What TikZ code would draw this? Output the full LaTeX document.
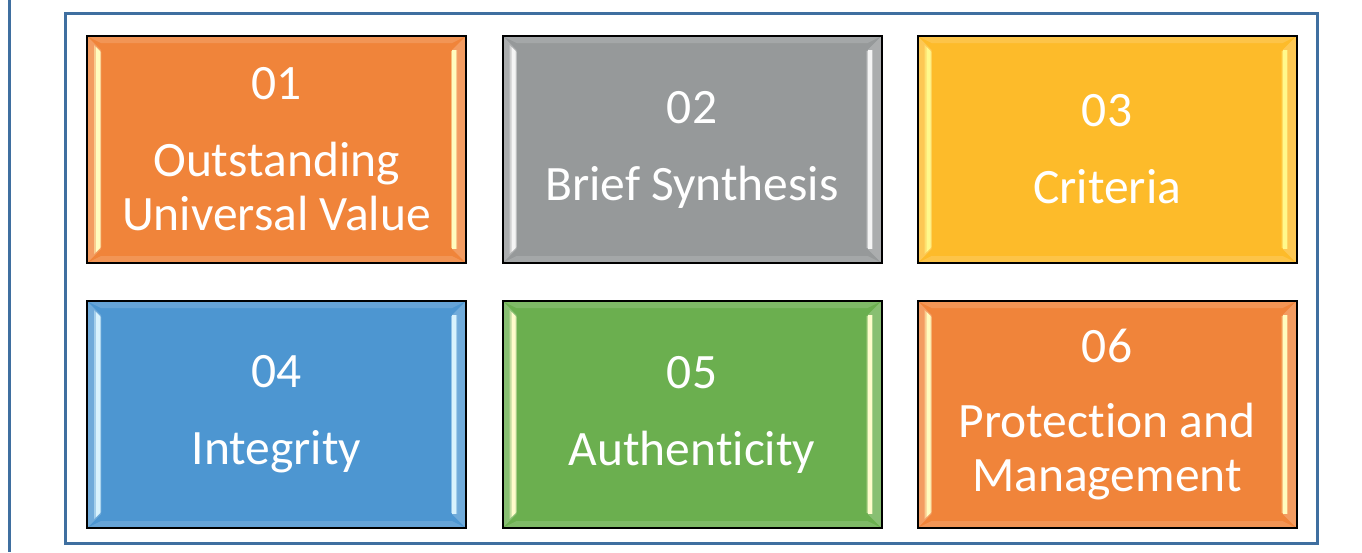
\documentclass[tikz,border=0pt]{standalone}
\usepackage{fontspec}
\newfontfamily\tilefont[Ligatures=NoCommon]{Carlito}
\definecolor{frameblue}{HTML}{3F6FA0}
\definecolor{torange}{HTML}{F0843A}
\definecolor{tgray}{HTML}{96999A}
\definecolor{tyellow}{HTML}{FDBB2A}
\definecolor{tblue}{HTML}{4D96D1}
\definecolor{tgreen}{HTML}{6BAF4F}
\tikzset{
  frame/.style={draw=frameblue,line width=3pt},
  tile/.style 2 args={draw=black,line width=2pt,fill=#1,minimum width=379pt,minimum height=227pt,
    inner sep=0pt,align=center,text=white,font=\tilefont\fontsize{49.5}{54}\selectfont,
    path picture={
      \coordinate (nw) at (path picture bounding box.north west);
      \coordinate (se) at (path picture bounding box.south east);
      \fill[white,opacity=.14] (nw) -- (nw-|se) -- ([shift={(-14pt,-7pt)}]nw-|se) -- ([shift={(14pt,-7pt)}]nw) -- cycle;
      \fill[white,opacity=.14] (se) -- (se-|nw) -- ([shift={(14pt,7pt)}]se-|nw) -- ([shift={(-14pt,7pt)}]se) -- cycle;
      \fill[white,opacity=.2] (nw) -- ([shift={(14pt,-14pt)}]nw) -- ([shift={(14pt,14pt)}]se-|nw) -- (se-|nw) -- cycle;
      \fill[white,opacity=.2] (se) -- ([shift={(-14pt,14pt)}]se) -- ([shift={(-14pt,-14pt)}]nw-|se) -- (nw-|se) -- cycle;
      \fill[#2,opacity=.5] ([shift={(7pt,-9pt)}]nw) -- ([shift={(14pt,-16pt)}]nw) -- ([shift={(14pt,16pt)}]se-|nw) -- ([shift={(7pt,9pt)}]se-|nw) -- cycle;
      \fill[#2] ([shift={(9pt,-11pt)}]nw) -- ([shift={(13pt,-15pt)}]nw) -- ([shift={(13pt,15pt)}]se-|nw) -- ([shift={(9pt,11pt)}]se-|nw) -- cycle;
      \fill[#2,opacity=.5] ([shift={(-15pt,-15pt)}]nw-|se) -- ([shift={(-9pt,-14pt)}]nw-|se) -- ([shift={(-9pt,14pt)}]se) -- ([shift={(-15pt,15pt)}]se) -- cycle;
      \fill[#2] ([shift={(-14pt,-14pt)}]nw-|se) -- ([shift={(-10pt,-14pt)}]nw-|se) -- ([shift={(-10pt,14pt)}]se) -- ([shift={(-14pt,14pt)}]se) -- cycle;
    }},
}
\begin{document}
\begin{tikzpicture}[x=1pt,y=-1pt]
\useasboundingbox (0,0) rectangle (1362,552);
\draw[frame] (9,0) -- (9,552);
\draw[frame] (65,13) rectangle (1317,543);
\node[tile={torange}{yellow!25!white}] (ouv) at (276.5,149.5) {01\\[23pt]Outstanding\\Universal Value};
\node[tile={tgray}{white!92!gray}] (synth) at (692,149.5) {02\\[23pt]Brief Synthesis};
\node[tile={tyellow}{yellow!45!white}] (crit) at (1107,149.5) {03\\[23pt]Criteria};
\node[tile={tblue}{cyan!15!white}] (integ) at (276.5,414.5) {04\\[23pt]Integrity};
\node[tile={tgreen}{yellow!20!white}] (auth) at (692,414.5) {05\\[23pt]Authenticity};
\node[tile={torange}{yellow!25!white}] (prot) at (1107,414.5) {06\\[21pt]Protection and\\Management};
\end{tikzpicture}
\end{document}
